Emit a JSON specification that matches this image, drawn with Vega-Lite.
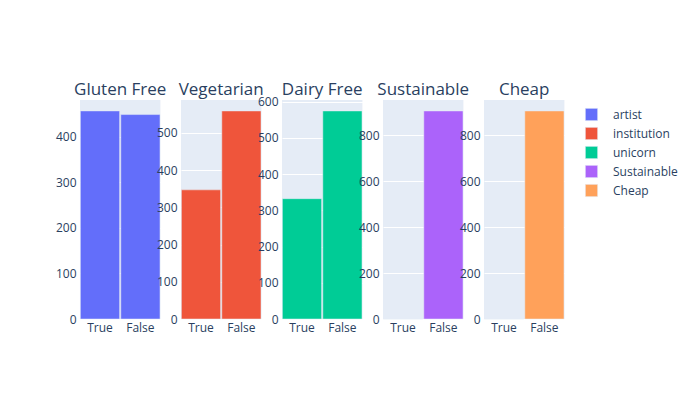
{
  "$schema": "https://vega.github.io/schema/vega-lite/v6.json",
  "padding": {"left": 55, "top": 81, "right": 10, "bottom": 5},
  "background": "white",
  "data": {
    "values": [
      {"panel": "Gluten Free", "series": "artist", "label": "True", "count": 457},
      {"panel": "Gluten Free", "series": "artist", "label": "False", "count": 449},
      {"panel": "Vegetarian", "series": "institution", "label": "True", "count": 347},
      {"panel": "Vegetarian", "series": "institution", "label": "False", "count": 559},
      {"panel": "Dairy Free", "series": "unicorn", "label": "True", "count": 332},
      {"panel": "Dairy Free", "series": "unicorn", "label": "False", "count": 574},
      {"panel": "Sustainable", "series": "Sustainable", "label": "True", "count": 0},
      {"panel": "Sustainable", "series": "Sustainable", "label": "False", "count": 906},
      {"panel": "Cheap", "series": "Cheap", "label": "True", "count": 0},
      {"panel": "Cheap", "series": "Cheap", "label": "False", "count": 906}
    ]
  },
  "spacing": 20,
  "bounds": "flush",
  "resolve": {"scale": {"x": "independent", "y": "independent"}},
  "hconcat": [
    {
      "title": "Gluten Free",
      "width": 80.4, "height": 219,
      "transform": [{"filter": "datum.panel === 'Gluten Free'"}],
      "mark": {"type": "bar", "stroke": "#E5ECF6", "strokeWidth": 0.5},
      "encoding": {
        "x": {"field": "label", "type": "nominal", "sort": ["True", "False"], "scale": {"paddingInner": 0.03, "paddingOuter": 0.01}, "axis": {"title": null}},
        "y": {"field": "count", "type": "quantitative", "scale": {"domain": [0, 481], "nice": false}, "axis": {"title": null, "values": [0, 100, 200, 300, 400]}},
        "color": {"field": "series", "type": "nominal"}
      }
    },
    {
      "title": "Vegetarian",
      "width": 80.4, "height": 219,
      "transform": [{"filter": "datum.panel === 'Vegetarian'"}],
      "mark": {"type": "bar", "stroke": "#E5ECF6", "strokeWidth": 0.5},
      "encoding": {
        "x": {"field": "label", "type": "nominal", "sort": ["True", "False"], "scale": {"paddingInner": 0.03, "paddingOuter": 0.01}, "axis": {"title": null}},
        "y": {"field": "count", "type": "quantitative", "scale": {"domain": [0, 588.4], "nice": false}, "axis": {"title": null, "values": [0, 100, 200, 300, 400, 500]}},
        "color": {"field": "series", "type": "nominal"}
      }
    },
    {
      "title": {"text": "Dairy Free", "offset": -3.5},
      "width": 80.4, "height": 219,
      "transform": [{"filter": "datum.panel === 'Dairy Free'"}],
      "mark": {"type": "bar", "stroke": "#E5ECF6", "strokeWidth": 0.5},
      "encoding": {
        "x": {"field": "label", "type": "nominal", "sort": ["True", "False"], "scale": {"paddingInner": 0.03, "paddingOuter": 0.01}, "axis": {"title": null}},
        "y": {"field": "count", "type": "quantitative", "scale": {"domain": [0, 604.2], "nice": false}, "axis": {"title": null, "values": [0, 100, 200, 300, 400, 500, 600]}},
        "color": {"field": "series", "type": "nominal"}
      }
    },
    {
      "title": "Sustainable",
      "width": 80.4, "height": 219,
      "transform": [{"filter": "datum.panel === 'Sustainable'"}],
      "mark": {"type": "bar", "stroke": "#E5ECF6", "strokeWidth": 0.5},
      "encoding": {
        "x": {"field": "label", "type": "nominal", "sort": ["True", "False"], "scale": {"paddingInner": 0.03, "paddingOuter": 0.01}, "axis": {"title": null}},
        "y": {"field": "count", "type": "quantitative", "scale": {"domain": [0, 953.7], "nice": false}, "axis": {"title": null, "values": [0, 200, 400, 600, 800]}},
        "color": {"field": "series", "type": "nominal"}
      }
    },
    {
      "title": "Cheap",
      "width": 80.4, "height": 219,
      "transform": [{"filter": "datum.panel === 'Cheap'"}],
      "mark": {"type": "bar", "stroke": "#E5ECF6", "strokeWidth": 0.5},
      "encoding": {
        "x": {"field": "label", "type": "nominal", "sort": ["True", "False"], "scale": {"paddingInner": 0.03, "paddingOuter": 0.01}, "axis": {"title": null}},
        "y": {"field": "count", "type": "quantitative", "scale": {"domain": [0, 953.7], "nice": false}, "axis": {"title": null, "values": [0, 200, 400, 600, 800]}},
        "color": {
          "field": "series", "type": "nominal",
          "scale": {"domain": ["artist", "institution", "unicorn", "Sustainable", "Cheap"], "range": ["#636EFA", "#EF553B", "#00CC96", "#AB63FA", "#FFA15A"]},
          "legend": {"title": null, "offset": 12, "symbolType": "square", "symbolSize": 150, "symbolStrokeColor": "#E5ECF6", "symbolStrokeWidth": 0.5, "symbolOpacity": 1, "labelOffset": 15, "rowPadding": 4, "padding": 8}
        }
      }
    }
  ],
  "config": {
    "font": "Open Sans",
    "view": {"fill": "#E5ECF6", "stroke": null},
    "title": {"fontSize": 17, "font": "Open Sans", "fontWeight": "normal", "color": "#2a3f5f", "offset": 1, "anchor": "middle"},
    "axis": {"labelFont": "Open Sans", "labelFontSize": 12, "labelColor": "#2a3f5f", "ticks": false, "domain": false, "gridColor": "white", "gridWidth": 1, "gridOpacity": 1},
    "axisX": {"grid": false, "labelAngle": 0, "labelPadding": 3},
    "axisY": {"labelPadding": 4},
    "legend": {"labelFont": "Open Sans", "labelFontSize": 12, "labelColor": "#2a3f5f"}
  }
}
